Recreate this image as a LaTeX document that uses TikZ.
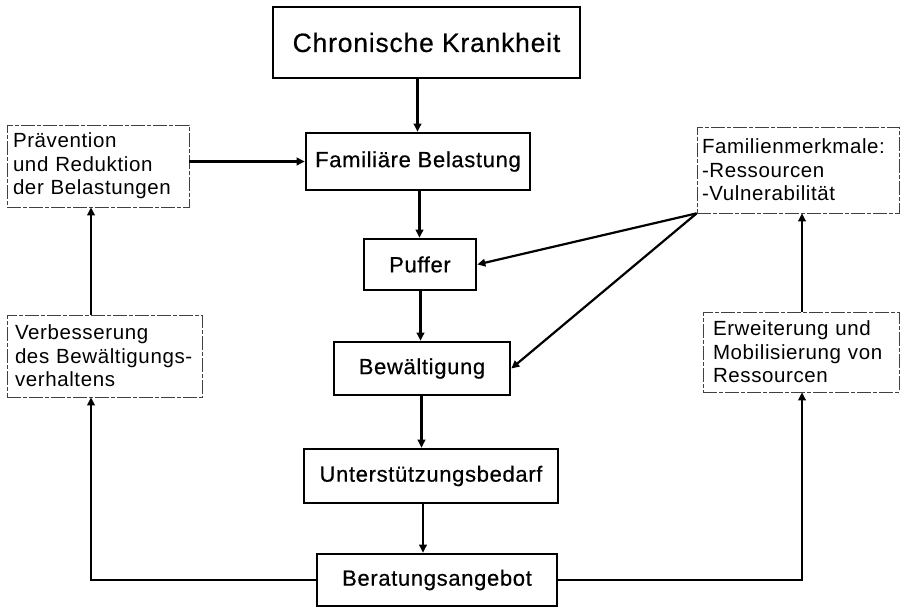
\documentclass[tikz,border=0pt]{standalone}
\usepackage{fontspec}
\setmainfont{Liberation Sans}[LetterSpace=3]
\newfontfamily\boxfont{Liberation Sans}[LetterSpace=3, FakeBold=0.5]
\usetikzlibrary{arrows.meta}
\hyphenpenalty=10000
\begin{document}
\begin{tikzpicture}[x=1pt,y=-1pt,
  mainbox/.style={draw, line width=2.6pt, inner sep=0pt, align=center, font=\boxfont\fontsize{22}{26}\selectfont},
  sidebox/.style={draw=black!75, line width=0.7pt, dash pattern=on 14pt off 2pt on 4pt off 2pt, inner ysep=0pt, inner xsep=#1, align=left, font=\fontsize{20.5}{23.5}\selectfont},
  arr/.style={line width=2.2pt, -{Triangle[length=8pt,width=7.5pt]}}]
\useasboundingbox (0,0) rectangle (900,607);
\fill[white] (0,0) rectangle (900,607);
% main chain
\node[mainbox, minimum width=307pt, minimum height=71pt, font=\boxfont\fontsize{26.5}{30}\selectfont] (chron) at (426.5,42.5) {Chronische Krankheit};
\node[mainbox, minimum width=224pt, minimum height=57pt] (fam) at (418,161.5) {Familiäre Belastung};
\node[mainbox, minimum width=112pt, minimum height=51pt] (puf) at (420,264.5) {Puffer};
\node[mainbox, minimum width=176pt, minimum height=53pt] (bew) at (422,368.5) {Bewältigung};
\node[mainbox, minimum width=254pt, minimum height=54pt] (unt) at (431,476) {Unterstützungsbedarf};
\node[mainbox, minimum width=240pt, minimum height=52pt] (ber) at (437,580) {Beratungsangebot};
% side boxes
\node[sidebox=6pt, text width=170pt, minimum height=82pt] (prae) at (98,166) {Prävention\\\mbox{und Reduktion}\\\mbox{der Belastungen}};
\node[sidebox=8pt, text width=179pt, minimum height=82pt] (verb) at (104.5,356) {Verbesserung\\\mbox{des Bewältigungs-}\\verhaltens};
\node[sidebox=5pt, text width=192pt, minimum height=86pt] (fm) at (798,170) {Familienmerkmale:\\-Ressourcen\\-Vulnerabilität};
\node[sidebox=10pt, text width=176pt, minimum height=80pt] (erw) at (801,352) {\mbox{Erweiterung und}\\\mbox{Mobilisierung von}\\Ressourcen};
% helper x positions
\coordinate (x1) at (417.5,0);
\coordinate (x2) at (419.5,0);
\coordinate (x3) at (420.5,0);
\coordinate (x4) at (421.5,0);
\coordinate (x5) at (423,0);
\coordinate (lx) at (91,0);
\coordinate (rx) at (802,0);
% connectors
\draw[arr] (chron.south -| x1) -- (fam.north -| x1);
\draw[arr] (fam.south -| x2) -- (puf.north -| x2);
\draw[arr] (puf.south -| x3) -- (bew.north -| x3);
\draw[arr] (bew.south -| x4) -- (unt.north -| x4);
\draw[arr] (unt.south -| x5) -- (ber.north -| x5);
\draw[arr] (prae.east |- fam.west) -- (fam.west);
\draw[arr] (fm.south west) -- (puf.east);
\draw[arr] (fm.south west) -- (bew.east);
\draw[arr] (ber.west) -| (verb.south -| lx);
\draw[arr] (verb.north -| lx) -- (prae.south -| lx);
\draw[arr] (ber.east) -| (erw.south -| rx);
\draw[arr] (erw.north -| rx) -- (fm.south -| rx);
\end{tikzpicture}
\end{document}
